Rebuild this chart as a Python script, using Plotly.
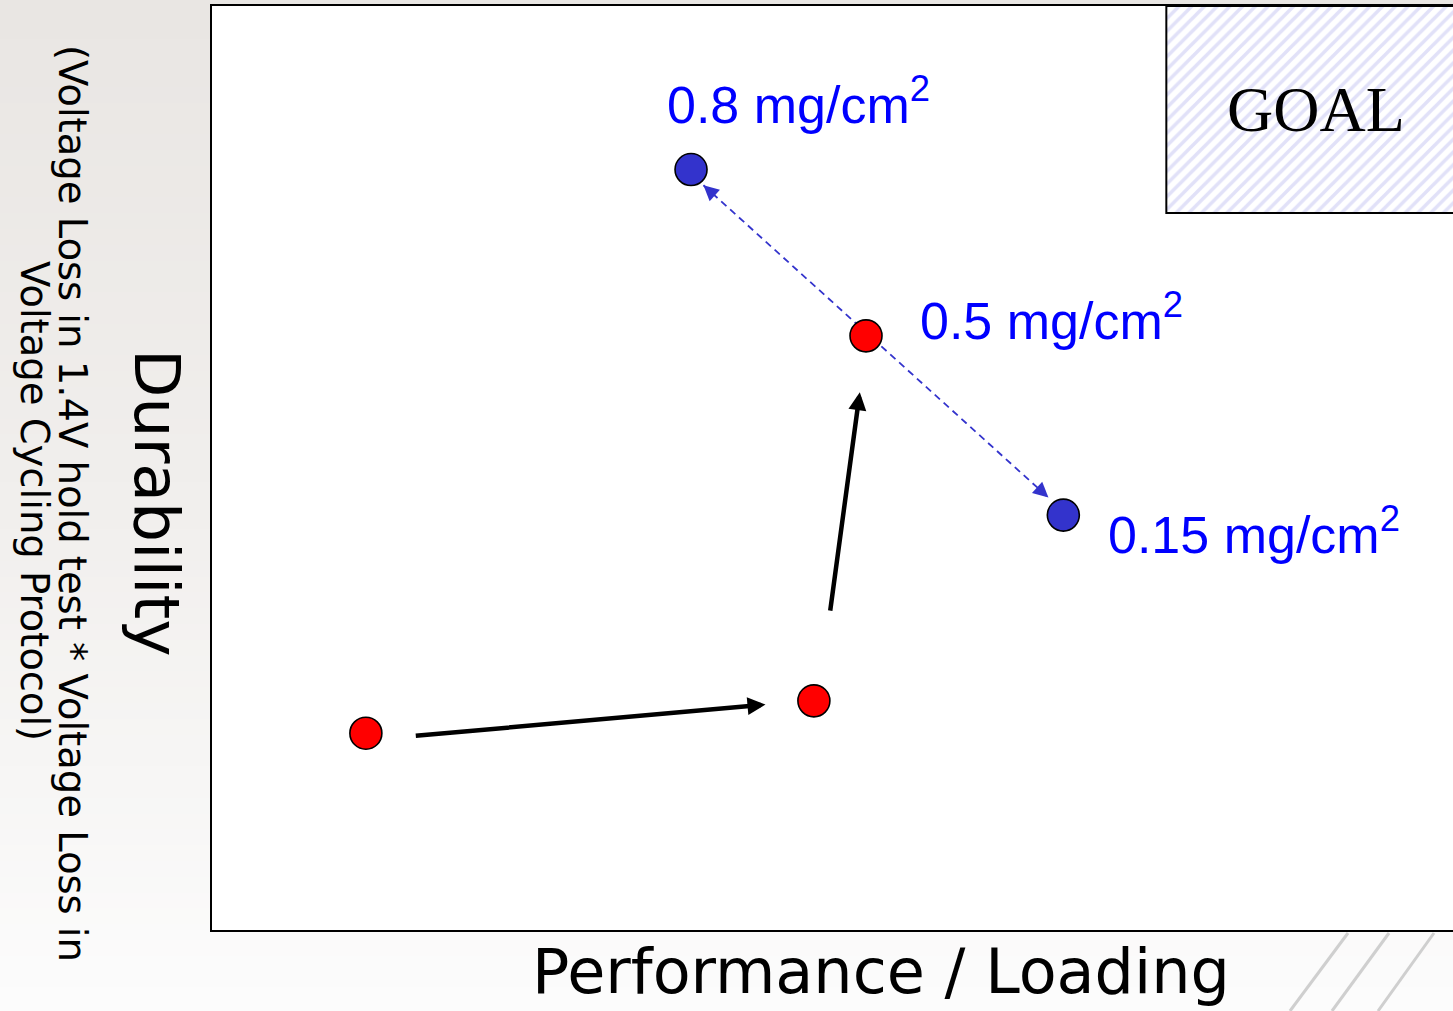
import base64
import struct
import zlib

import plotly.graph_objects as go

# ---------------- data (abstract 0-100 units) ----------------
red_x = [12.4, 48.5, 52.7]
red_y = [21.3, 24.8, 64.3]
blue_x = [38.6, 68.6]
blue_y = [82.3, 44.9]

label_text = ["0.8 mg/cm<sup>2</sup>", "0.5 mg/cm<sup>2</sup>", "0.15 mg/cm<sup>2</sup>"]
label_x = [36.5, 56.9, 72.0]
label_y = [89.7, 66.3, 43.2]

arrow_tail_x = [16.3, 49.8]
arrow_tail_y = [21.0, 34.4]
arrow_head_x = [44.6, 52.2]
arrow_head_y = [24.4, 58.2]

dash_x = [39.6, 67.4]
dash_y = [80.6, 46.8]

goal_x = [76.9, 100.0]
goal_y = [77.6, 100.0]
goal_text = "GOAL"

x_title = "Performance / Loading"
y_title = "Durability"
y_sub1 = "(Voltage Loss in 1.4V hold test * Voltage Loss in"
y_sub2 = "Voltage Cycling Protocol)"

W, H = 1453, 1011
ML, MR, MT, MB = 212, 0, 6, 81
PW, PH = W - ML - MR, H - MT - MB


def px_to_paper_x(px):
    return (px - ML) / PW


def px_to_paper_y(py):
    return (H - MB - py) / PH


# ---------------- background gradient image ----------------
def make_png(w, h, rows):
    raw = b"".join(b"\x00" + bytes(c for p in row for c in p) for row in rows)

    def chunk(t, d):
        c = struct.pack(">I", len(d)) + t + d
        return c + struct.pack(">I", zlib.crc32(t + d) & 0xFFFFFFFF)

    return (b"\x89PNG\r\n\x1a\n"
            + chunk(b"IHDR", struct.pack(">IIBBBBB", w, h, 8, 2, 0, 0, 0))
            + chunk(b"IDAT", zlib.compress(raw))
            + chunk(b"IEND", b""))


stops = [(0.0, (233, 230, 227)), (0.5, (241, 239, 237)), (1.0, (252, 252, 252))]


def grad(t):
    for (t0, c0), (t1, c1) in zip(stops[:-1], stops[1:]):
        if t <= t1:
            f = (t - t0) / (t1 - t0)
            return tuple(int(round(a + (b - a) * f)) for a, b in zip(c0, c1))
    return stops[-1][1]


GH = 64
rows = [[grad(i / (GH - 1))] * 4 for i in range(GH)]
bg_uri = "data:image/png;base64," + base64.b64encode(make_png(4, GH, rows)).decode()

fig = go.Figure()

# GOAL hatched region
fig.add_trace(go.Scatter(
    x=[goal_x[1], goal_x[0], goal_x[0], goal_x[1]],
    y=[goal_y[1], goal_y[1], goal_y[0], goal_y[0]],
    mode="lines", fill="toself",
    fillcolor="white",
    fillpattern=dict(shape="/", fgcolor="#c4c4f2", bgcolor="white", size=9, solidity=0.4),
    line=dict(color="black", width=2),
    hoverinfo="skip", showlegend=False, cliponaxis=False,
))

# dashed blue line
fig.add_trace(go.Scatter(
    x=dash_x, y=dash_y, mode="lines",
    line=dict(color="#3333cc", width=1.8, dash="7px,5px"),
    hoverinfo="skip", showlegend=False,
))

# points
fig.add_trace(go.Scatter(
    x=red_x, y=red_y, mode="markers",
    marker=dict(size=32, color="#ff0000", line=dict(color="black", width=1.6)),
    showlegend=False,
))
fig.add_trace(go.Scatter(
    x=blue_x, y=blue_y, mode="markers",
    marker=dict(size=32, color="#3333cc", line=dict(color="black", width=1.6)),
    showlegend=False,
))

annotations = []

# black arrows
for tx, ty, hx, hy in zip(arrow_tail_x, arrow_tail_y, arrow_head_x, arrow_head_y):
    annotations.append(dict(
        x=hx, y=hy, ax=tx, ay=ty, xref="x", yref="y", axref="x", ayref="y",
        text="", showarrow=True, arrowhead=2, arrowwidth=4.5, arrowsize=0.8,
        arrowcolor="black", standoff=0,
    ))

# blue arrow heads at both ends of the dashed line
for i, j in ((0, 1), (1, 0)):
    annotations.append(dict(
        x=dash_x[i], y=dash_y[i],
        ax=dash_x[i] + 0.03 * (dash_x[j] - dash_x[i]),
        ay=dash_y[i] + 0.03 * (dash_y[j] - dash_y[i]),
        xref="x", yref="y", axref="x", ayref="y",
        text="", showarrow=True, arrowhead=2, arrowwidth=1.8, arrowsize=1.7,
        arrowcolor="#3333cc", standoff=0,
    ))

# labels
for t, lx, ly in zip(label_text, label_x, label_y):
    annotations.append(dict(
        x=lx, y=ly, xref="x", yref="y", text=t, showarrow=False,
        xanchor="left", yanchor="middle",
        font=dict(family="Liberation Sans, Arial", size=52, color="#0000ff"),
    ))

# GOAL text
annotations.append(dict(
    x=(goal_x[0] + goal_x[1]) / 2 + 0.5, y=(goal_y[0] + goal_y[1]) / 2, xref="x", yref="y",
    text=goal_text, showarrow=False, xanchor="center", yanchor="middle",
    font=dict(family="Liberation Serif, Times New Roman", size=64, color="black"),
))

# axis titles
annotations.append(dict(
    x=px_to_paper_x(881), y=px_to_paper_y(971), xref="paper", yref="paper",
    text=x_title, showarrow=False, xanchor="center", yanchor="middle",
    font=dict(family="DejaVu Sans", size=62, color="black"),
))
annotations.append(dict(
    x=px_to_paper_x(157), y=px_to_paper_y(502), xref="paper", yref="paper",
    text=y_title, showarrow=False, xanchor="center", yanchor="middle", textangle=90,
    font=dict(family="DejaVu Sans", size=63, color="black"),
))
annotations.append(dict(
    x=px_to_paper_x(72), y=px_to_paper_y(503), xref="paper", yref="paper",
    text=y_sub1, showarrow=False, xanchor="center", yanchor="middle", textangle=90,
    font=dict(family="DejaVu Sans", size=38.5, color="black"),
))
annotations.append(dict(
    x=px_to_paper_x(35), y=px_to_paper_y(501), xref="paper", yref="paper",
    text=y_sub2, showarrow=False, xanchor="center", yanchor="middle", textangle=90,
    font=dict(family="DejaVu Sans", size=38.5, color="black"),
))

# decorative diagonal lines bottom-right
deco = [((1290, 1011), (1348, 933)), ((1332, 1011), (1389, 933)), ((1378, 1011), (1434, 933))]
shapes = [dict(type="rect", xref="paper", yref="paper", x0=0, x1=1, y0=0, y1=1,
               fillcolor="white", line=dict(width=0), layer="below")]
for (a, b) in deco:
    shapes.append(dict(type="line", xref="paper", yref="paper",
                       x0=px_to_paper_x(a[0]), y0=px_to_paper_y(a[1]),
                       x1=px_to_paper_x(b[0]), y1=px_to_paper_y(b[1]),
                       line=dict(color="#cfcfcf", width=3), layer="below"))

fig.update_layout(
    width=W, height=H,
    margin=dict(l=ML, r=MR, t=MT, b=MB, pad=0),
    paper_bgcolor="#f2f0ee", plot_bgcolor="white",
    showlegend=False,
    annotations=annotations,
    shapes=shapes,
    images=[dict(source=bg_uri, xref="paper", yref="paper",
                 x=px_to_paper_x(0), y=px_to_paper_y(0),
                 sizex=W / PW, sizey=H / PH, sizing="stretch",
                 xanchor="left", yanchor="top", layer="below")],
    xaxis=dict(range=[0, 100], showgrid=False, zeroline=False, showticklabels=False,
               ticks="", showline=True, mirror=True, linecolor="black", linewidth=2,
               fixedrange=True),
    yaxis=dict(range=[0, 100], showgrid=False, zeroline=False, showticklabels=False,
               ticks="", showline=True, mirror=False, linecolor="black", linewidth=2,
               fixedrange=True),
)

fig.write_html("out.html", config={"displayModeBar": False})
